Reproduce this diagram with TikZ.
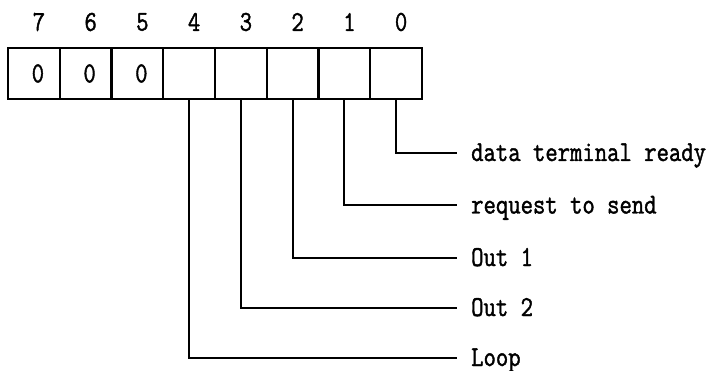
\documentclass[tikz,border=0pt]{standalone}
\usepackage{fontspec}
\newfontface\monob{Latin Modern Mono}[FakeBold=1.6]
\begin{document}
\begin{tikzpicture}[x=1pt,y=-1pt,
  txt/.style={font=\fontsize{24}{24}\monob},
  cell/.style={txt,draw,line width=2pt,minimum width=51.75pt,minimum height=51pt,inner sep=0pt},
  bitnum/.style={txt,inner sep=0pt},
  lbl/.style={txt,anchor=west,inner xsep=14pt,inner ysep=0pt,text height=16pt,text depth=0pt},
  wire/.style={line width=2pt}]
\useasboundingbox (0,0) rectangle (714,371);
\newcommand{\tallbox}[1]{\scalebox{1}[1.2]{#1}}
% cells
\node[cell] (c7) at (33.9,73.5) {\hspace{8pt}\tallbox{0}};
\node[cell] (c6) at (85.6,73.5) {\hspace{8pt}\tallbox{0}};
\node[cell] (c5) at (137.4,73.5) {\hspace{8pt}\tallbox{0}};
\node[cell] (c4) at (189.1,73.5) {};
\node[cell] (c3) at (240.9,73.5) {};
\node[cell] (c2) at (292.6,73.5) {};
\node[cell] (c1) at (344.4,73.5) {};
\node[cell] (c0) at (396.1,73.5) {};
% bit numbers
\node[bitnum] (n7) at (38.9,22) {\tallbox{7}};
\node[bitnum] (n6) at (90.6,22) {\tallbox{6}};
\node[bitnum] (n5) at (142.4,22) {\tallbox{5}};
\node[bitnum] (n4) at (194.1,22) {\tallbox{4}};
\node[bitnum] (n3) at (245.9,22) {\tallbox{3}};
\node[bitnum] (n2) at (297.6,22) {\tallbox{2}};
\node[bitnum] (n1) at (349.4,22) {\tallbox{1}};
\node[bitnum] (n0) at (401.1,22) {\tallbox{0}};
% labels
\node[lbl] (l0) at (457,153) {\tallbox{data terminal ready}};
\node[lbl] (l1) at (457,205.5) {\tallbox{request to send}};
\node[lbl] (l2) at (457,258) {\tallbox{Out 1}};
\node[lbl] (l3) at (457,308) {\tallbox{Out 2}};
\node[lbl] (l4) at (457,358) {\tallbox{Loop}};
% wires
\draw[wire] (c0.south) |- (l0.west);
\draw[wire] (c1.south) |- (l1.west);
\draw[wire] (c2.south) |- (l2.west);
\draw[wire] (c3.south) |- (l3.west);
\draw[wire] (c4.south) |- (l4.west);
\end{tikzpicture}
\end{document}
